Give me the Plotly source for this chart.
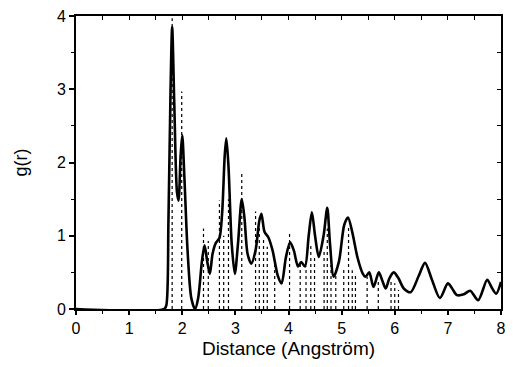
import plotly.graph_objects as go

# Solid curve g(r)
r_curve = [0, 1.66, 1.70, 1.74, 1.78, 1.81, 1.85, 1.90, 1.93, 1.97, 2.00, 2.04, 2.10, 2.17, 2.24,
           2.30, 2.37, 2.42, 2.47, 2.52, 2.57, 2.63, 2.70, 2.75, 2.80, 2.83, 2.87, 2.93, 2.99,
           3.05, 3.12, 3.17, 3.23, 3.30, 3.38, 3.45, 3.49, 3.55, 3.62, 3.70, 3.80, 3.87, 3.95,
           4.03, 4.10, 4.18, 4.24, 4.31, 4.38, 4.44, 4.50, 4.57, 4.66, 4.73, 4.78, 4.85, 4.95,
           5.05, 5.12, 5.20, 5.30, 5.40, 5.45, 5.52, 5.60, 5.70, 5.76, 5.83, 5.90, 5.98, 6.07,
           6.17, 6.30, 6.45, 6.57, 6.70, 6.85, 7.00, 7.08, 7.17, 7.30, 7.42, 7.57, 7.74, 7.82,
           7.91, 8.00]
g_curve = [0, 0, 0.05, 1.2, 3.0, 3.85, 2.8, 1.6, 1.48, 2.1, 2.37, 1.8, 0.8, 0.15, 0.0,
           0.15, 0.65, 0.87, 0.65, 0.48, 0.75, 0.9, 0.97, 1.3, 2.1, 2.33, 1.95, 0.9, 0.48,
           0.9, 1.5, 1.25, 0.75, 0.62, 0.8, 1.2, 1.3, 1.05, 0.98, 0.8, 0.45, 0.35, 0.7,
           0.91, 0.8, 0.58, 0.64, 0.58, 1.0, 1.32, 1.0, 0.71, 1.0, 1.38, 0.9, 0.44, 0.65,
           1.15, 1.25, 1.05, 0.7, 0.48, 0.44, 0.5, 0.3, 0.5, 0.4, 0.28, 0.42, 0.5, 0.42,
           0.28, 0.23, 0.45, 0.63, 0.4, 0.15, 0.35, 0.28, 0.19, 0.2, 0.25, 0.12, 0.4, 0.3,
           0.21, 0.37]

# Dotted sticks (positions and heights)
stick_r = [1.81, 1.99, 2.40, 2.49, 2.70, 2.78, 2.87, 3.12, 3.38, 3.45, 3.53, 3.60, 3.74,
           4.02, 4.22, 4.33, 4.42, 4.49, 4.67, 4.73, 4.80, 4.89, 5.04, 5.13, 5.20, 5.26,
           5.48, 5.69, 5.93, 6.00, 6.07]
stick_h = [3.97, 2.97, 1.10, 0.93, 1.48, 1.00, 1.50, 1.86, 1.33, 1.25, 0.95, 0.85, 0.66,
           1.05, 0.60, 0.58, 0.90, 0.70, 0.80, 1.10, 0.60, 0.55, 0.55, 1.11, 0.53, 0.49,
           0.44, 0.39, 0.37, 0.35, 0.26]

x_ticks = [0, 1, 2, 3, 4, 5, 6, 7, 8]
y_ticks = [0, 1, 2, 3, 4]

sx, sy = [], []
for r, h in zip(stick_r, stick_h):
    sx += [r, r, None]
    sy += [0, h, None]

fig = go.Figure()
fig.add_trace(go.Scatter(x=sx, y=sy, mode="lines",
                         line=dict(color="black", width=1.2, dash="dot"),
                         hoverinfo="skip", showlegend=False))
fig.add_trace(go.Scatter(x=r_curve, y=g_curve, mode="lines",
                         line=dict(color="black", width=2.6, shape="spline", smoothing=0.8),
                         showlegend=False))
# invisible trace that carries the mirrored top/right tick axes
fig.add_trace(go.Scatter(x=[0, 8], y=[0, 4], xaxis="x2", yaxis="y2", mode="lines",
                         line=dict(width=0, color="rgba(0,0,0,0)"),
                         hoverinfo="skip", showlegend=False))

font = dict(family="Liberation Sans, Arial, sans-serif", color="black")
tick_font = dict(family="Liberation Sans, Arial, sans-serif", color="black", size=16)

fig.update_layout(
    width=497, height=351,
    margin=dict(l=68, r=4, t=8, b=50, autoexpand=False),
    paper_bgcolor="white", plot_bgcolor="white",
    font=dict(**font, size=16),
    xaxis=dict(range=[0, 8], tickvals=x_ticks, ticktext=[str(v) for v in x_ticks],
               ticks="outside", ticklen=4, tickwidth=1.5, tickcolor="black",
               minor=dict(dtick=0.5, ticks="outside", ticklen=3, tickwidth=1.2, tickcolor="black"),
               showline=True, mirror=True, linecolor="black", linewidth=2,
               showgrid=False, zeroline=False,
               automargin=False, ticklabeloverflow="allow",
               title=dict(text="Distance (Angström)", font=dict(**font, size=19), standoff=8),
               tickfont=tick_font),
    yaxis=dict(range=[0, 4], tickvals=y_ticks, ticktext=[str(v) for v in y_ticks],
               ticks="outside", ticklen=5, tickwidth=1.5, tickcolor="black",
               minor=dict(dtick=0.5, ticks="outside", ticklen=3, tickwidth=1.2, tickcolor="black"),
               showline=True, mirror=True, linecolor="black", linewidth=2,
               showgrid=False, zeroline=False,
               automargin=False, ticklabeloverflow="allow",
               title=dict(text="g(r)", font=dict(**font, size=18), standoff=25),
               tickfont=tick_font),
    xaxis2=dict(range=[0, 8], overlaying="x", side="top", anchor="y",
                tickvals=x_ticks, showticklabels=False, ticks="inside", ticklen=4,
                tickwidth=1.2, tickcolor="black", automargin=False,
                minor=dict(dtick=0.5, ticks="inside", ticklen=4, tickwidth=1.2, tickcolor="black"),
                showline=False, showgrid=False, zeroline=False),
    yaxis2=dict(range=[0, 4], overlaying="y", side="right", anchor="x",
                tickvals=y_ticks, showticklabels=False, ticks="inside", ticklen=4,
                tickwidth=1.2, tickcolor="black", automargin=False,
                minor=dict(dtick=0.5, ticks="inside", ticklen=4, tickwidth=1.2, tickcolor="black"),
                showline=False, showgrid=False, zeroline=False),
)

fig.write_html("out.html")
